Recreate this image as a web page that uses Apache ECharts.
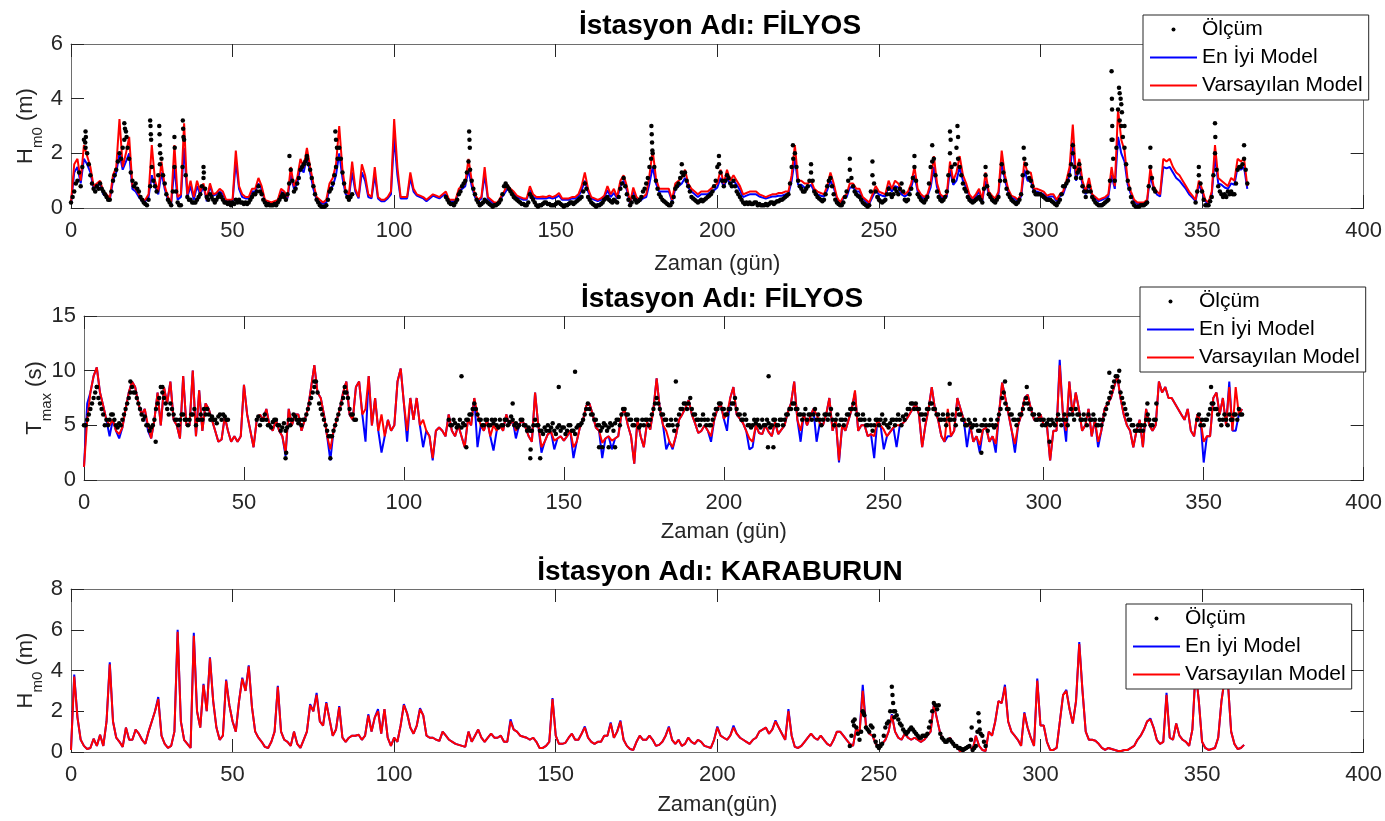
<!DOCTYPE html>
<html><head><meta charset="utf-8">
<script src="https://cdn.jsdelivr.net/npm/echarts@6/dist/echarts.min.js"></script>
<style>html,body{margin:0;padding:0;background:#fff}#c{width:1385px;height:821px}</style>
</head><body><div id="c"></div><script>
const xTicks = {min:0, max:400, interval:50};
const titles = ['İstasyon Adı: FİLYOS','İstasyon Adı: FİLYOS','İstasyon Adı: KARABURUN'];
const xNames = ['Zaman (gün)','Zaman (gün)','Zaman(gün)'];
const legendNames = ['Ölçüm','En İyi Model','Varsayılan Model'];
const yRanges = [[0,6,2],[0,15,5],[0,8,2]];

// Panel 1: FİLYOS Hm0 (daily values, day 0..364)
const R1 = [
0.2,1.6,1.8,1.0,2.3,1.9,1.5,0.8,0.9,1.0,
0.6,0.5,0.35,1.2,1.5,3.25,1.5,2.0,2.6,0.8,
0.7,0.5,0.3,0.3,0.5,2.3,1.0,0.6,1.7,0.8,
0.4,0.2,2.3,0.4,0.5,3.1,0.5,1.0,0.4,1.0,
0.6,0.9,0.3,0.9,0.5,0.55,0.7,0.6,0.3,0.3,
0.3,2.1,0.8,0.5,0.4,0.4,0.7,0.7,1.1,0.8,
0.3,0.25,0.2,0.25,0.3,0.7,0.6,0.4,1.5,0.8,
1.1,1.8,1.5,2.2,1.5,0.9,0.4,0.3,0.2,0.3,
0.9,1.1,1.6,3.0,1.4,0.6,0.5,1.7,0.7,0.4,
1.6,1.2,0.5,0.4,1.5,0.4,0.3,0.3,0.4,0.6,
3.25,1.5,0.4,0.4,0.4,1.3,0.7,0.5,0.45,0.4,
0.3,0.4,0.5,0.45,0.4,0.5,0.6,0.3,0.3,0.3,
0.7,0.8,0.9,1.8,1.0,0.5,0.3,0.4,1.5,0.4,
0.3,0.2,0.2,0.4,0.6,0.85,0.7,0.6,0.45,0.4,
0.35,0.35,0.8,0.5,0.4,0.4,0.42,0.4,0.45,0.4,
0.45,0.55,0.35,0.35,0.35,0.4,0.4,0.5,0.8,1.3,
0.7,0.4,0.35,0.3,0.35,0.45,0.8,0.5,0.7,0.4,
1.0,1.2,0.8,0.2,0.75,0.4,0.3,0.4,0.5,1.2,
2.1,1.1,0.7,0.7,0.7,0.7,0.3,0.9,1.0,1.1,
1.4,0.9,0.7,0.6,0.5,0.6,0.6,0.6,0.7,0.8,
0.9,1.4,0.9,1.4,1.0,1.2,1.0,0.8,0.5,0.55,
0.6,0.6,0.6,0.5,0.45,0.4,0.45,0.5,0.5,0.55,
0.55,0.6,0.6,1.2,2.3,1.0,1.0,0.9,0.9,1.0,
0.7,0.6,0.55,0.5,0.8,1.3,0.9,0.4,0.2,0.4,
0.5,0.9,0.9,0.7,0.7,0.4,0.3,0.2,0.5,0.8,
0.6,0.55,0.5,1.0,0.7,1.0,0.9,0.6,0.5,0.6,
0.9,1.5,0.7,0.5,0.4,0.5,0.9,1.9,0.9,0.5,
0.4,0.5,1.7,1.0,1.3,1.9,1.2,0.9,0.5,0.35,
0.5,0.7,0.3,1.3,0.6,0.45,0.35,0.6,2.1,1.2,
0.7,0.45,0.4,0.3,0.5,1.7,1.3,1.3,0.7,0.7,
0.65,0.6,0.45,0.5,0.5,0.3,0.5,0.6,1.0,1.5,
3.05,1.2,1.8,1.0,0.6,1.1,0.5,0.4,0.3,0.35,
0.4,0.5,1.5,0.8,3.6,2.5,2.1,1.0,0.6,0.3,
0.2,0.2,0.2,0.3,1.45,0.8,0.6,0.5,1.8,1.7,
1.8,1.5,1.3,1.2,1.0,0.8,0.6,0.45,0.3,1.0,
0.7,0.3,0.2,0.6,2.3,1.1,1.0,0.9,0.8,1.1,
1.0,1.8,1.7,1.8,0.8];
const B1 = [
0.15,1.3,1.5,0.9,1.8,1.6,1.3,0.7,0.8,0.9,
0.5,0.4,0.3,1.0,1.3,2.0,1.4,1.7,2.0,0.7,
0.6,0.4,0.25,0.25,0.4,1.2,0.8,0.5,1.3,0.7,
0.3,0.15,1.5,0.3,0.4,2.2,0.4,0.8,0.3,0.8,
0.5,0.8,0.25,0.8,0.45,0.5,0.6,0.5,0.25,0.25,
0.25,1.7,0.7,0.4,0.35,0.35,0.6,0.6,0.9,0.7,
0.25,0.2,0.15,0.2,0.25,0.6,0.5,0.35,1.2,0.7,
0.9,1.5,1.3,1.9,1.3,0.7,0.3,0.2,0.15,0.2,
0.7,0.8,1.2,2.0,1.1,0.5,0.4,1.3,0.6,0.35,
1.3,1.0,0.4,0.35,1.2,0.35,0.25,0.25,0.35,0.5,
2.6,1.2,0.35,0.35,0.35,1.1,0.6,0.45,0.4,0.35,
0.25,0.35,0.45,0.4,0.35,0.45,0.5,0.25,0.25,0.25,
0.6,0.7,0.8,1.4,0.8,0.4,0.25,0.35,1.2,0.35,
0.25,0.15,0.15,0.35,0.5,0.7,0.6,0.5,0.4,0.35,
0.3,0.3,0.65,0.4,0.35,0.35,0.36,0.35,0.38,0.35,
0.38,0.45,0.3,0.3,0.3,0.35,0.35,0.42,0.65,1.0,
0.6,0.35,0.3,0.25,0.3,0.38,0.65,0.4,0.55,0.35,
0.8,1.0,0.65,0.15,0.6,0.35,0.25,0.35,0.4,0.9,
1.5,0.9,0.6,0.6,0.6,0.6,0.25,0.7,0.8,0.9,
1.1,0.75,0.6,0.5,0.4,0.5,0.5,0.5,0.6,0.65,
0.75,1.1,0.75,1.1,0.85,1.0,0.85,0.65,0.4,0.45,
0.5,0.5,0.5,0.42,0.38,0.35,0.38,0.42,0.42,0.45,
0.45,0.5,0.5,1.0,1.8,0.85,0.85,0.75,0.75,0.85,
0.6,0.5,0.45,0.42,0.65,1.0,0.75,0.35,0.15,0.35,
0.4,0.75,0.75,0.6,0.6,0.35,0.25,0.15,0.4,0.65,
0.5,0.45,0.42,0.8,0.6,0.8,0.75,0.5,0.42,0.5,
0.75,1.2,0.6,0.42,0.35,0.42,0.75,1.5,0.75,0.42,
0.35,0.42,1.4,0.85,1.0,1.5,1.0,0.75,0.42,0.3,
0.42,0.6,0.25,1.0,0.5,0.38,0.3,0.5,1.7,1.0,
0.6,0.38,0.35,0.25,0.42,1.4,1.0,1.0,0.6,0.6,
0.55,0.5,0.38,0.42,0.42,0.25,0.42,0.5,0.85,1.2,
2.4,1.0,1.5,0.85,0.5,0.9,0.42,0.35,0.25,0.3,
0.35,0.42,1.2,0.7,2.6,2.0,1.7,0.85,0.5,0.25,
0.15,0.15,0.15,0.25,1.2,0.7,0.5,0.42,1.5,1.45,
1.5,1.3,1.1,1.0,0.85,0.7,0.5,0.38,0.25,0.85,
0.6,0.25,0.15,0.5,1.9,0.9,0.85,0.75,0.7,0.9,
0.85,1.5,1.4,1.5,0.7];
// measurements at whole days
const M1 = [
0.2,0.6,1.0,0.8,2.5,2.0,1.2,0.7,0.8,0.9,
0.6,0.4,0.3,1.0,1.4,2.0,2.2,2.8,1.8,1.0,
0.9,0.6,0.3,0.15,0.3,1.5,0.8,1.2,1.8,0.9,
0.3,0.1,1.5,0.2,0.1,2.5,0.4,0.3,0.2,0.3,
0.5,1.1,0.4,0.5,0.3,0.3,0.5,0.3,0.2,0.2,
0.2,0.3,0.3,0.2,0.2,0.2,0.4,0.5,0.8,0.5,
0.2,0.15,0.1,0.15,0.2,0.4,0.4,0.5,1.4,0.6,
0.9,1.4,1.6,1.8,1.4,0.8,0.3,0.1,0.05,0.1,
0.6,0.9,1.5,2.2,1.3,0.6,0.3,0.5,null,null,
null,null,null,null,null,null,null,null,null,null,
null,null,null,null,null,null,null,null,null,null,
null,null,null,null,null,null,0.4,0.2,0.15,0.2,
0.5,0.8,1.0,1.7,1.0,0.5,0.2,0.15,0.3,0.2,
0.1,0.1,0.15,0.3,0.8,0.8,0.6,0.4,0.3,0.2,
0.15,0.1,0.5,0.3,0.1,0.1,0.15,0.2,0.15,0.1,
0.15,0.2,0.1,0.1,0.15,0.2,0.2,0.3,0.4,0.9,
0.4,0.2,0.1,0.1,0.15,0.3,0.4,0.25,0.3,0.2,
0.7,1.1,0.5,0.1,0.4,0.2,0.3,0.6,0.9,1.5,
2.0,1.0,0.5,0.3,0.2,0.1,0.2,0.7,0.9,1.3,
1.3,0.8,0.4,0.3,0.2,0.3,0.3,0.4,0.5,0.8,
1.5,1.3,0.8,1.2,0.9,1.0,0.6,0.4,0.2,0.2,
0.2,0.15,0.2,0.15,0.1,0.15,0.15,0.2,0.2,0.25,
0.3,0.4,0.5,1.5,2.0,1.0,0.7,0.6,0.8,1.3,
0.6,0.4,0.3,0.3,0.8,1.1,0.5,0.2,0.1,0.2,
0.6,1.4,0.8,0.5,0.4,0.2,0.1,0.1,1.2,0.6,
0.3,0.2,0.3,0.7,0.4,0.7,0.5,0.9,0.3,0.3,
0.7,1.5,0.5,0.3,0.2,0.4,1.5,1.8,0.6,0.3,
0.3,0.6,2.0,1.0,2.2,1.5,0.9,0.6,0.3,0.2,
0.3,0.4,0.2,1.2,0.5,0.3,0.2,0.4,1.6,1.0,
0.5,0.3,0.2,0.2,0.5,1.8,1.3,1.0,0.6,0.5,
0.5,0.4,0.3,0.3,0.2,0.1,0.3,0.8,0.9,1.2,
2.0,1.1,1.4,0.8,0.4,0.8,0.4,0.2,0.1,0.1,
0.2,0.3,2.5,1.0,3.6,3.0,2.2,1.0,0.4,0.1,
0.05,0.1,0.1,0.2,1.5,0.7,null,null,null,null,
null,null,null,null,null,null,null,null,0.2,1.2,
0.6,0.1,0.1,0.4,2.0,0.8,0.5,0.5,0.6,0.6,
0.5,1.4,1.5,1.8,0.9];
// measurements at half days (day + 0.5)
const M1half = [
0.4,0.9,1.3,1.5,2.2,1.6,0.9,0.6,0.7,0.7,
0.5,0.3,0.6,1.2,1.7,1.8,2.5,2.2,1.3,0.8,
0.7,0.4,0.2,0.1,0.8,1.0,0.6,1.6,1.2,0.5,
0.2,0.6,0.6,0.1,1.5,1.2,0.3,0.2,0.2,0.4,
0.8,0.7,0.3,0.4,0.2,0.4,0.4,0.2,0.15,0.1,
0.15,0.2,0.2,0.15,0.15,0.3,0.5,0.6,0.6,0.3,
0.1,0.1,0.1,0.1,0.3,0.5,0.3,0.9,1.0,0.7,
1.1,1.5,1.7,1.6,1.1,0.5,0.2,0.05,0.05,0.3,
0.7,1.2,1.8,1.8,0.9,0.4,0.4,null,null,null,
null,null,null,null,null,null,null,null,null,null,
null,null,null,null,null,null,null,null,null,null,
null,null,null,null,null,null,0.3,0.15,0.1,0.3,
0.6,0.9,1.3,1.4,0.7,0.3,0.1,0.2,0.25,0.15,
0.05,0.1,0.2,0.5,0.9,0.7,0.5,0.35,0.25,0.15,
0.1,0.2,0.4,0.2,0.05,0.1,0.2,0.15,0.1,0.1,
0.2,0.15,0.05,0.1,0.2,0.15,0.25,0.35,0.6,0.7,
0.3,0.15,0.05,0.1,0.2,0.35,0.3,0.2,0.25,0.4,
0.9,0.8,0.3,0.2,0.3,0.25,0.4,0.7,1.1,1.8,
1.5,0.7,0.4,0.25,0.15,0.1,0.4,0.8,1.1,1.2,
1.0,0.6,0.35,0.25,0.25,0.25,0.35,0.45,0.6,1.0,
1.6,1.0,1.0,1.1,0.8,0.8,0.5,0.3,0.15,0.15,
0.15,0.2,0.1,0.1,0.1,0.1,0.2,0.15,0.25,0.3,
0.35,0.45,0.9,1.8,1.5,0.8,0.6,0.7,1.0,1.0,
0.5,0.35,0.25,0.5,1.0,0.8,0.3,0.15,0.1,0.4,
1.0,1.1,0.6,0.45,0.3,0.15,0.05,0.6,0.9,0.4,
0.25,0.25,0.5,0.5,0.5,0.6,0.7,0.6,0.25,0.5,
1.1,1.0,0.4,0.25,0.3,0.9,1.7,1.2,0.4,0.25,
0.4,1.2,1.5,1.6,1.8,1.2,0.7,0.4,0.25,0.25,
0.35,0.3,0.7,0.8,0.4,0.25,0.3,1.0,1.3,0.7,
0.4,0.25,0.15,0.3,1.2,1.6,1.1,0.8,0.5,0.5,
0.45,0.35,0.3,0.25,0.15,0.2,0.5,0.8,1.0,1.6,
1.5,1.3,1.1,0.6,0.6,0.6,0.3,0.15,0.1,0.15,
0.25,1.0,1.8,2.2,3.2,2.6,1.6,0.7,0.2,0.05,
0.05,0.1,0.15,0.8,1.1,0.6,null,null,null,null,
null,null,null,null,null,null,null,null,0.6,0.9,
0.3,0.1,0.25,1.2,1.4,0.6,0.4,0.4,0.5,0.5,
0.9,1.5,1.6,1.4,null];
const M1extra = [[4.5,2.8],[4.6,2.6],[4.4,2.4],[16.5,3.1],[16.7,2.9],[17.2,2.6],[24.5,3.2],[24.6,3.0],[24.7,2.7],[24.8,2.5],[27.3,3.0],[27.4,2.7],[27.5,2.3],[27.6,2.0],[32,2.6],[32.1,2.2],[34.6,3.2],[34.7,2.9],[34.8,2.6],[41,1.5],[41.1,1.3],[67.6,1.9],[73,1.9],[81.8,2.8],[82,2.5],[82.3,2.2],[123.2,2.8],[123.3,2.5],[123.4,2.2],[179.6,3.0],[179.7,2.7],[179.8,2.4],[179.9,2.1],[200.5,1.9],[189,1.6],[223.4,2.3],[229,1.6],[241,1.8],[248,1.7],[261,1.9],[266.5,2.3],[272,2.8],[272.2,2.5],[274.3,3.0],[274.5,2.6],[283,1.5],[294.8,2.2],[310,2.3],[312,1.6],[322,5.0],[322.1,4.0],[322.15,3.6],[322.2,3.0],[322.3,2.5],[324.3,4.4],[324.5,4.2],[324.8,4.0],[325,3.8],[325.2,3.5],[326,3.0],[334,2.2],[349,1.5],[354,3.1],[354.1,2.6],[363,2.3]];

// Panel 2: FİLYOS Tmax (day 0..362)
const R2 = [
1.2,5.5,8.0,9.5,10.3,8.0,6.8,5.5,5.0,5.5,
4.5,4.2,4.8,6.5,8.0,9.0,8.5,7.0,6.0,6.5,
5.0,3.8,5.5,8.0,5.0,8.5,7.0,9.0,5.5,5.0,
3.8,9.5,5.0,5.0,10.0,4.0,8.2,4.5,7.0,6.5,
5.5,4.5,3.5,3.7,5.8,4.5,3.5,4.0,3.5,4.0,
8.7,6.0,4.5,3.0,5.5,6.0,5.5,6.5,5.0,4.5,
5.5,4.5,4.0,2.5,6.5,5.0,6.0,6.0,4.5,5.5,
6.5,8.5,10.5,8.0,7.5,6.0,4.0,2.8,4.5,5.5,
6.5,8.0,9.0,6.0,5.5,8.5,9.0,6.0,6.5,9.5,
5.0,7.5,4.5,6.0,4.0,5.5,4.5,5.0,9.0,10.2,
7.0,4.5,7.5,5.5,7.5,5.0,5.5,4.5,4.0,2.0,
4.5,4.8,4.5,4.0,6.0,4.5,4.0,5.0,4.0,3.0,
5.5,5.0,7.5,6.0,5.0,4.5,5.5,4.0,5.0,4.5,
5.0,4.5,6.0,5.0,5.5,4.5,5.0,5.5,4.8,4.0,
3.5,8.0,5.0,3.0,3.5,4.2,4.4,3.6,3.8,4.0,
3.6,4.0,4.5,3.0,3.5,4.8,5.5,6.8,7.0,6.0,
4.8,4.5,3.4,3.8,4.0,3.6,3.8,4.0,6.0,6.4,
5.0,4.0,1.5,5.5,4.0,3.0,5.3,4.6,6.5,9.3,
6.5,5.0,4.5,3.5,3.0,4.0,5.5,6.0,6.6,7.3,
6.0,5.2,4.3,4.5,5.0,4.5,4.0,5.5,6.5,7.0,
5.6,6.0,7.5,8.5,6.0,5.6,5.2,4.5,3.8,3.5,
5.0,4.3,4.2,5.0,4.4,4.0,5.3,4.2,4.6,5.0,
6.2,7.0,9.0,5.5,4.5,6.0,5.0,5.8,6.5,6.0,
5.2,5.0,6.0,7.5,4.5,5.5,1.8,5.0,4.5,5.5,
6.5,8.2,4.5,5.0,5.0,4.0,4.2,4.0,5.5,5.0,
4.6,4.0,4.4,4.8,5.0,5.0,5.2,5.5,6.0,6.5,
7.0,6.0,3.0,5.0,6.5,8.5,6.5,5.5,4.0,3.5,
6.5,4.0,4.5,7.5,6.5,5.5,5.0,5.0,3.5,4.0,
3.2,4.6,4.8,3.5,4.0,3.3,6.0,8.9,7.5,6.0,
4.5,3.3,5.0,6.0,7.5,7.8,6.5,5.5,5.5,6.0,
5.0,5.0,1.8,4.5,4.5,10.5,6.0,4.5,9.0,6.0,
8.0,6.5,4.5,5.0,6.5,4.0,5.5,3.5,4.5,6.5,
7.0,7.5,8.5,9.5,7.5,6.0,5.0,4.5,3.0,4.5,
5.5,3.0,6.5,5.0,4.5,5.0,9.0,8.0,8.5,7.5,
7.5,7.0,6.5,6.0,5.5,6.5,4.5,4.0,6.0,5.5,
3.5,4.0,4.0,7.5,8.0,6.0,7.5,5.0,8.5,4.5,
8.5,6.0,6.5];
const B2 = [
1.2,7.0,8.0,9.5,10.3,8.0,6.8,5.5,4.0,5.5,
4.5,3.8,4.8,6.5,8.0,9.0,8.5,7.0,6.0,6.5,
4.5,3.8,5.5,8.0,5.0,8.5,7.0,9.0,5.5,5.0,
3.8,9.5,5.0,5.0,10.0,4.0,8.2,4.5,7.0,6.5,
5.5,4.5,3.5,3.7,5.8,4.5,3.5,4.0,3.5,4.0,
8.7,6.0,4.5,3.0,5.5,6.0,5.5,6.5,5.0,4.5,
5.5,4.5,4.0,2.2,6.5,5.0,6.0,6.0,4.5,5.5,
6.5,8.5,10.5,8.0,7.5,6.0,4.0,1.8,4.5,5.5,
6.5,8.0,9.0,6.0,5.5,8.5,9.0,6.0,3.5,9.5,
5.0,7.5,4.5,2.5,4.0,5.5,4.5,5.0,9.0,10.2,
7.0,3.5,7.5,5.5,7.5,5.0,3.0,4.5,4.0,1.8,
4.5,4.8,4.5,4.0,6.0,4.5,4.0,5.0,4.0,3.0,
5.5,5.0,7.5,3.0,5.0,4.5,5.5,4.0,2.7,4.5,
5.0,4.5,6.0,5.0,5.5,3.8,5.0,5.5,4.8,4.0,
3.5,8.0,5.0,2.5,3.5,4.2,4.4,2.8,3.8,4.0,
3.6,4.0,4.5,2.0,3.5,4.8,5.5,6.8,7.0,6.0,
4.8,4.5,2.0,3.8,4.0,2.8,3.8,4.0,6.0,6.4,
5.0,4.0,1.5,5.5,4.0,3.0,5.3,4.6,6.5,9.3,
6.5,5.0,2.8,3.5,2.8,4.0,5.5,6.0,6.6,7.3,
6.0,5.2,4.3,4.5,5.0,4.5,3.5,5.5,6.5,7.0,
5.6,4.5,7.5,8.5,6.0,5.6,5.2,4.5,2.8,3.0,
5.0,4.3,4.2,5.0,4.4,4.0,5.3,4.2,4.6,5.0,
6.2,7.0,9.0,5.5,3.5,6.0,5.0,5.8,6.5,3.5,
5.2,5.0,6.0,7.5,4.5,5.5,1.6,5.0,4.5,5.5,
6.5,8.0,4.5,5.0,5.0,4.0,4.2,2.0,5.5,5.0,
2.8,4.0,4.4,4.8,3.0,5.0,5.2,5.5,6.0,6.5,
7.0,6.0,3.0,5.0,6.5,8.5,6.5,5.5,4.0,3.5,
4.0,4.0,4.5,7.5,6.5,5.5,3.0,5.0,3.5,4.0,
2.5,4.6,4.8,3.5,4.0,2.5,6.0,8.9,7.5,6.0,
4.5,2.5,5.0,6.0,7.5,7.8,6.5,5.5,5.5,6.0,
5.0,5.0,1.8,4.5,4.5,11.0,6.0,3.5,9.0,6.0,
8.0,6.5,4.5,5.0,6.5,4.0,5.5,3.0,4.5,6.5,
7.0,7.5,8.5,9.5,7.5,6.0,5.0,4.5,3.0,4.5,
5.5,3.0,6.5,5.0,4.5,5.0,9.0,8.0,8.5,7.5,
7.5,7.0,6.5,6.0,5.5,6.5,4.5,4.0,6.0,5.5,
1.6,4.0,4.0,7.5,8.0,6.0,7.5,5.0,9.0,4.5,
4.5,6.0,6.5];
const M2 = [
5.0,5.5,6.5,7.5,8.5,7.0,6.0,5.5,5.5,6.0,
5.0,5.2,5.5,6.5,7.5,8.5,8.0,7.0,6.0,5.8,
5.0,4.8,5.5,7.0,8.5,7.5,6.5,7.0,6.0,5.5,
5.5,6.0,5.5,5.5,6.0,5.0,5.5,5.5,6.0,6.0,
5.8,5.5,5.8,5.5,5.8,5.5,null,null,null,null,
null,null,null,null,5.5,5.0,5.5,5.5,5.0,5.3,
5.5,5.0,4.8,4.5,5.5,5.5,5.8,5.2,5.0,5.5,
6.5,7.5,8.5,8.0,6.5,5.5,4.5,4.0,4.5,5.5,
6.5,7.5,8.0,6.5,6.0,5.5,null,null,null,null,
null,null,null,null,null,null,null,null,null,null,
null,null,null,null,null,null,null,null,null,null,
null,null,null,null,5.5,5.0,5.2,5.0,4.8,5.0,
5.5,6.0,7.0,6.0,5.5,5.0,5.5,5.0,5.2,5.0,
5.5,5.0,5.5,5.3,5.5,5.2,5.0,5.5,5.0,4.8,
4.5,5.5,5.0,4.5,4.8,5.0,4.8,4.5,4.8,4.5,
4.8,4.5,5.0,4.5,4.8,5.0,5.5,6.5,6.5,6.0,
5.5,5.0,4.8,5.0,4.8,5.0,5.2,5.5,6.0,6.5,
6.0,5.5,5.0,5.5,5.0,5.0,5.5,5.5,6.5,7.5,
6.5,6.0,5.5,5.0,5.0,5.5,6.0,6.5,7.0,7.0,
6.5,6.0,5.5,5.5,5.5,5.5,5.0,6.0,6.5,7.0,
6.5,6.0,6.5,7.0,6.5,6.0,5.5,5.5,5.0,5.0,
5.2,5.0,5.5,5.0,5.2,5.0,5.5,5.0,5.5,5.5,
6.0,6.5,7.0,6.5,6.0,6.0,5.5,6.0,6.0,5.5,
5.5,5.5,6.0,6.0,5.5,5.5,5.0,5.5,5.5,6.0,
6.5,6.5,6.0,5.5,5.5,5.0,5.0,5.0,5.5,5.5,
5.2,5.0,5.2,5.5,5.5,5.5,5.8,6.0,6.5,7.0,
7.0,6.5,6.0,6.0,6.5,7.0,6.5,6.0,5.5,5.5,
6.0,5.5,5.5,6.5,6.0,5.5,5.0,5.2,5.0,5.0,
4.5,5.0,5.0,5.0,5.0,5.0,6.0,7.5,7.0,6.5,
6.0,5.5,5.5,6.0,7.0,7.0,6.5,6.0,5.5,5.5,
5.5,5.2,5.0,5.2,5.5,5.5,5.5,5.5,6.0,6.0,
6.5,6.0,5.5,5.5,6.0,5.5,5.5,5.0,5.0,6.0,
7.0,8.0,9.0,9.5,8.0,7.0,6.0,5.5,5.0,4.5,
4.5,4.5,5.5,5.5,5.0,5.5,null,null,null,null,
null,null,null,null,null,null,null,null,5.5,5.0,
5.0,5.5,6.5,7.0,6.5,5.5,5.5,5.5,6.0,5.5,
6.0,6.5,6.0];
const M2half = [
5.0,6.0,7.0,8.0,7.5,6.5,5.0,5.0,6.0,5.5,
4.8,5.0,6.0,7.0,8.0,8.0,7.5,6.5,5.5,5.0,
4.5,5.0,6.5,7.5,8.0,7.0,6.0,6.5,5.5,5.0,
6.0,5.5,5.0,6.0,6.5,5.5,6.0,6.5,6.5,5.5,
5.5,5.2,6.0,6.0,5.5,null,null,null,null,null,
null,null,null,null,5.8,5.5,6.0,5.0,4.8,5.5,
5.0,4.5,5.2,4.8,5.0,6.0,5.5,5.5,5.5,6.0,
7.0,8.0,9.0,7.0,6.0,5.0,4.0,4.0,5.0,6.0,
7.0,8.0,7.5,6.0,5.5,null,null,null,null,null,
null,null,null,null,null,null,null,null,null,null,
null,null,null,null,null,null,null,null,null,null,
null,null,null,null,5.0,5.5,4.8,5.5,5.2,5.5,
6.0,6.5,6.5,5.5,5.0,5.5,5.0,5.5,5.5,4.8,
5.0,5.5,5.0,5.8,5.0,4.8,5.5,5.0,4.5,4.5,
5.0,5.0,4.5,4.2,4.5,4.5,5.2,4.2,5.0,4.8,
4.2,5.0,4.5,4.2,5.0,5.2,6.0,7.0,6.0,5.5,
5.0,4.5,5.2,4.5,5.2,4.5,5.5,5.0,6.5,6.0,
5.5,5.0,5.5,4.8,5.5,5.5,5.0,6.0,7.0,7.0,
6.0,5.5,5.0,5.5,4.5,5.0,6.5,7.0,6.5,7.5,
6.0,5.5,5.0,6.0,5.0,5.0,5.5,6.5,7.0,6.5,
6.0,6.5,7.0,7.5,6.0,5.5,6.0,5.0,4.8,5.5,
5.5,4.8,5.0,5.5,4.8,5.5,5.0,5.5,5.0,6.0,
6.5,7.0,6.5,6.0,5.5,6.5,6.0,5.5,6.5,6.0,
5.0,6.0,5.5,6.5,5.0,6.0,5.5,5.0,6.0,6.5,
7.0,6.0,5.5,6.0,5.0,5.5,4.5,5.5,5.0,6.0,
5.5,4.8,5.5,5.0,6.0,5.0,5.5,6.5,7.0,6.5,
6.5,6.0,5.5,6.5,7.0,6.5,6.0,5.5,6.0,5.0,
5.5,6.0,5.0,6.0,5.5,5.0,5.5,4.8,5.5,4.5,
5.0,5.5,4.5,5.5,4.8,5.5,6.5,8.0,6.5,6.0,
5.5,5.0,6.0,6.5,7.5,6.5,6.0,5.5,6.0,5.0,
5.0,5.5,5.5,5.0,6.0,5.0,6.0,5.0,6.5,5.5,
6.0,5.5,6.0,5.0,5.5,6.0,5.0,5.5,5.5,6.5,
7.5,8.5,9.5,9.0,7.5,6.5,5.5,5.0,4.5,5.0,
5.0,5.0,6.0,5.0,5.5,null,null,null,null,null,
null,null,null,null,null,null,null,null,6.0,5.5,
5.5,6.0,7.0,6.5,6.0,5.0,6.0,5.0,5.5,6.0,
5.5,6.0,null];
const M2extra = [[4,8.5],[14.5,9.0],[22.4,3.5],[24.5,8.5],[63,2.0],[63.2,2.5],[72,9.0],[77,2.0],[81.5,8.5],[118,9.5],[119.5,3.0],[134,7.0],[139.5,2.0],[139.6,2.8],[142.6,2.0],[148.4,8.5],[153.5,9.9],[161,3.0],[162,3.0],[164,3.0],[166,3.0],[185,9.0],[214,9.5],[213.8,3.0],[215.5,3.0],[270.6,8.8],[280.5,2.5],[287.9,9.0],[294.7,8.5],[301.8,3.5],[320.5,9.8],[323.6,10.0],[332.4,7.0],[335.2,7.0],[352.3,8.5]];

// Panel 3: KARABURUN Hm0 (day 0..363)
const R3 = [
0.1,3.7,1.7,0.6,0.3,0.15,0.2,0.65,0.3,0.85,
0.3,1.5,4.3,1.5,0.7,0.5,0.25,1.2,0.6,0.6,
1.1,0.9,0.6,0.4,1.0,1.5,2.0,2.6,0.8,0.4,
0.2,0.3,1.0,5.9,1.5,0.6,0.4,0.2,5.7,2.0,
1.2,3.3,2.0,4.6,2.5,1.2,0.6,0.8,3.5,2.3,
1.5,1.0,2.5,3.6,3.0,4.2,2.2,1.0,0.7,0.5,
0.25,0.2,0.5,1.0,3.2,1.0,0.6,0.5,0.3,1.0,
0.4,0.2,0.6,1.0,2.3,2.0,2.8,1.5,1.3,2.4,
1.6,0.8,1.1,2.2,0.7,0.5,0.7,0.8,0.8,0.85,
0.6,0.8,1.8,1.0,1.7,2.0,0.9,2.1,0.7,0.3,
0.7,0.5,1.3,2.3,1.9,1.2,0.9,1.3,2.1,1.8,
0.8,0.7,0.7,0.6,0.55,1.0,0.8,0.6,0.5,0.4,
0.35,0.3,0.25,1.0,0.5,0.8,1.1,0.7,0.5,0.7,
0.9,0.7,0.7,0.8,0.5,0.5,1.5,1.1,1.0,0.8,
0.75,0.7,0.6,0.7,0.5,0.2,0.2,0.3,0.5,2.6,
0.8,0.4,0.4,0.45,0.7,0.9,0.6,0.6,0.9,1.2,
0.7,0.5,0.4,0.5,0.5,0.8,0.8,1.4,0.7,1.0,
1.5,0.6,0.3,0.15,0.1,0.5,0.8,0.6,0.6,0.8,
0.6,0.3,0.35,0.5,0.8,1.2,0.6,0.4,0.6,0.3,
0.4,0.7,0.5,0.4,0.6,0.5,0.3,0.25,0.2,0.6,
1.2,0.8,0.7,0.6,0.8,1.2,0.9,0.7,0.6,0.5,
0.4,0.6,0.7,1.0,1.1,1.2,0.9,1.1,1.5,1.2,
0.9,0.6,2.0,0.8,0.25,0.2,0.3,0.5,0.7,0.9,
0.7,0.6,0.8,0.6,0.4,0.3,0.6,1.0,1.0,0.8,
0.6,0.4,0.3,1.2,0.9,3.0,1.3,0.9,0.8,0.4,
0.3,0.4,0.6,1.0,1.8,1.0,0.7,0.6,0.9,0.7,
0.6,0.7,0.6,0.5,0.6,0.8,1.0,2.3,1.6,0.9,
0.6,0.5,0.7,0.4,0.3,0.05,0.05,0.2,0.3,0.1,
0.8,0.3,0.1,0.05,1.0,0.8,1.5,2.5,2.4,3.2,
1.5,1.0,0.8,0.6,0.3,1.9,1.2,0.7,0.3,3.5,
1.3,1.3,0.5,0.1,0.1,0.2,1.5,2.8,3.0,2.1,
1.4,2.5,5.3,3.0,1.0,0.6,0.6,0.55,0.4,0.2,
0.1,0.2,0.15,0.1,0.05,0.05,0.1,0.1,0.2,0.3,
0.6,0.8,1.1,1.5,1.6,1.2,0.6,0.4,0.5,2.8,
0.7,0.6,1.4,0.8,0.6,0.5,0.3,1.1,4.0,2.5,
0.5,0.2,0.1,0.15,0.2,0.7,2.5,3.6,3.4,1.0,
0.4,0.15,0.2,0.35];
const B3 = [
0.1,3.8,1.7,0.6,0.3,0.15,0.2,0.65,0.3,0.85,
0.3,1.5,4.4,1.5,0.7,0.5,0.25,1.2,0.6,0.6,
1.1,0.9,0.6,0.4,1.0,1.5,2.0,2.7,0.8,0.4,
0.2,0.3,1.0,6.0,1.5,0.6,0.4,0.2,5.85,2.0,
1.2,3.35,2.0,4.65,2.5,1.2,0.6,0.8,3.55,2.3,
1.5,1.0,2.5,3.65,3.0,4.25,2.2,1.0,0.7,0.5,
0.25,0.2,0.5,1.0,3.25,1.0,0.6,0.5,0.3,1.0,
0.4,0.2,0.6,1.0,2.35,2.0,2.9,1.5,1.3,2.45,
1.6,0.8,1.1,2.25,0.7,0.5,0.7,0.8,0.8,0.85,
0.6,0.8,1.85,1.0,1.7,2.1,0.9,2.1,0.7,0.3,
0.7,0.5,1.3,2.35,1.9,1.2,0.9,1.3,2.15,1.8,
0.8,0.7,0.7,0.6,0.55,1.0,0.8,0.6,0.5,0.4,
0.35,0.3,0.25,1.0,0.5,0.8,1.1,0.7,0.5,0.7,
0.9,0.7,0.7,0.8,0.5,0.5,1.6,1.1,1.0,0.8,
0.75,0.7,0.6,0.7,0.5,0.2,0.2,0.3,0.5,2.65,
0.8,0.4,0.4,0.45,0.7,0.9,0.6,0.6,0.9,1.25,
0.7,0.5,0.4,0.5,0.5,0.8,0.8,1.45,0.7,1.0,
1.55,0.6,0.3,0.15,0.1,0.5,0.8,0.6,0.6,0.8,
0.6,0.3,0.35,0.5,0.8,1.25,0.6,0.4,0.6,0.3,
0.4,0.7,0.5,0.4,0.6,0.5,0.3,0.25,0.2,0.6,
1.25,0.8,0.7,0.6,0.8,1.3,0.9,0.7,0.6,0.5,
0.4,0.6,0.7,1.0,1.1,1.2,0.9,1.1,1.55,1.2,
0.9,0.6,2.1,0.8,0.25,0.2,0.3,0.5,0.7,0.9,
0.7,0.6,0.8,0.6,0.4,0.3,0.6,1.0,1.0,0.8,
0.6,0.4,0.3,1.2,0.9,3.3,1.3,0.9,0.8,0.4,
0.3,0.4,0.6,1.0,1.85,1.0,0.7,0.6,0.9,0.7,
0.6,0.7,0.6,0.5,0.6,0.8,1.0,2.35,1.6,0.9,
0.6,0.5,0.7,0.4,0.3,0.05,0.05,0.2,0.3,0.1,
0.8,0.3,0.1,0.05,1.0,0.8,1.5,2.5,2.4,3.3,
1.5,1.0,0.8,0.6,0.3,1.95,1.2,0.7,0.3,3.6,
1.3,1.3,0.5,0.1,0.1,0.2,1.5,2.8,3.05,2.1,
1.4,2.5,5.4,3.0,1.0,0.6,0.6,0.55,0.4,0.2,
0.1,0.2,0.15,0.1,0.05,0.05,0.1,0.1,0.2,0.3,
0.6,0.8,1.1,1.5,1.65,1.2,0.6,0.4,0.5,2.9,
0.7,0.6,1.4,0.8,0.6,0.5,0.3,1.1,4.0,2.5,
0.5,0.2,0.1,0.15,0.2,0.7,2.5,3.6,3.4,1.0,
0.4,0.15,0.2,0.35];
const M3 = [[241,0.3],[241.5,0.8],[242,1.5],[242.3,1.3],[242.5,1.6],[243,1.2],[243.5,0.9],[244,0.6],[244.5,1.0],[245,2.0],[245.3,1.9],[245.5,1.8],[246,1.2],[246.5,1.1],[247,1.0],[247.5,1.3],[248,1.2],[248.5,0.8],[249,0.5],[249.5,0.3],[250,0.2],[250.5,0.3],[251,0.4],[251.5,0.8],[252,1.2],[252.5,1.4],[253,1.5],[253.5,2.0],[254,3.2],[254.2,2.8],[254.4,2.4],[254.6,2.0],[254.8,1.7],[255,2.0],[255.5,1.8],[256,1.6],[256.5,1.4],[257,1.3],[257.5,1.1],[258,1.0],[258.5,0.9],[259,1.0],[259.5,1.1],[260,1.2],[260.5,1.1],[261,1.0],[261.5,0.9],[262,0.8],[262.5,0.7],[263,0.7],[263.5,0.8],[264,0.8],[264.5,0.8],[265,0.9],[265.5,1.2],[266,1.5],[266.5,2.0],[267,2.4],[267.5,2.3],[268,2.1],[268.5,2.3],[269,0.9],[269.5,0.7],[270,0.6],[270.5,0.5],[271,0.5],[271.5,0.6],[272,0.6],[272.5,0.5],[273,0.4],[273.5,0.3],[274,0.3],[274.5,0.2],[275,0.2],[275.5,0.15],[276,0.1],[276.5,0.15],[277,0.2],[277.5,0.25],[278,0.3],[278.5,0.6],[278.7,1.2],[279,0.1],[279.5,0.2],[280,0.3],[280.5,1.0],[280.8,1.9],[281,1.5],[281.2,1.1],[281.5,0.9],[282,0.8],[282.5,0.5],[283,0.3]];

const FONT = '"Liberation Sans", Arial, sans-serif';
const AX = '#262626';
const grids = [
  {left:71, top:44, width:1298, height:164},
  {left:84, top:316, width:1284, height:164},
  {left:71, top:589, width:1298, height:163}
];
const yNames = [
  '{a|H}{s|m0}{a| (m)}',
  '{a|T}{s|max}{a| (s)}',
  '{a|H}{s|m0}{a| (m)}'
];
const titleTops = [12, 285, 558];
const titleCenters = [720, 722, 720];
const xNameGaps = [45, 41, 42];
const yNameGaps = [26, 30, 26];
const legendPos = [{left:1143, top:15},{left:1140, top:287},{left:1126, top:604}];
const LINE_ICON = 'path://M0,0L47,0L47,2L0,2Z';

const xAxes = [], yAxes = [], series = [], titleArr = [], legends = [];
const tickStyle = {show:true, inside:true, length:13, lineStyle:{color:AX, width:1}};
const lineStyleAx = {show:true, onZero:false, lineStyle:{color:'#6e6e6e', width:1}};
for (let g = 0; g < 3; g++) {
  xAxes.push({gridIndex:g, type:'value', position:'bottom', min:xTicks.min, max:xTicks.max, interval:xTicks.interval,
    axisLine:lineStyleAx, axisTick:tickStyle, splitLine:{show:false},
    axisLabel:{margin:12, fontSize:22, color:AX, fontFamily:FONT},
    name:xNames[g], nameLocation:'middle', nameGap:xNameGaps[g],
    nameTextStyle:{fontSize:22, color:AX, fontFamily:FONT}});
  xAxes.push({gridIndex:g, type:'value', position:'top', min:xTicks.min, max:xTicks.max, interval:xTicks.interval,
    axisLine:lineStyleAx, axisTick:tickStyle, splitLine:{show:false}, axisLabel:{show:false}});
  const yr = yRanges[g];
  yAxes.push({gridIndex:g, type:'value', position:'left', min:yr[0], max:yr[1], interval:yr[2],
    axisLine:lineStyleAx, axisTick:tickStyle, splitLine:{show:false},
    axisLabel:{margin:8, fontSize:22, color:AX, fontFamily:FONT},
    name:yNames[g], nameLocation:'middle', nameRotate:90, nameGap:yNameGaps[g], nameMoveOverlap:false,
    nameTextStyle:{color:AX, fontFamily:FONT, rich:{
      a:{fontSize:22, lineHeight:30, verticalAlign:'top', color:AX, fontFamily:FONT},
      s:{fontSize:15, lineHeight:16, verticalAlign:'bottom', color:AX, fontFamily:FONT}}}});
  yAxes.push({gridIndex:g, type:'value', position:'right', min:yr[0], max:yr[1], interval:yr[2],
    axisLine:lineStyleAx, axisTick:tickStyle, splitLine:{show:false}, axisLabel:{show:false}});
  titleArr.push({text:titles[g], left:titleCenters[g], top:titleTops[g], textAlign:'center', padding:0,
    textStyle:{fontSize:28, fontWeight:'bold', color:'#000', fontFamily:FONT}});
  legends.push({orient:'vertical', left:legendPos[g].left, top:legendPos[g].top, zlevel:1, z:20,
    backgroundColor:'#fff', borderColor:AX, borderWidth:1, borderRadius:0, padding:[3,6,3,7],
    itemWidth:47, itemHeight:4, itemGap:5, selectedMode:false,
    textStyle:{fontSize:21, lineHeight:23, color:'#000', fontFamily:FONT},
    data:[
      {name:legendNames[0], icon:'circle'},
      {name:legendNames[1], icon:LINE_ICON, itemStyle:{color:'#0000ff'}},
      {name:legendNames[2], icon:LINE_ICON, itemStyle:{color:'#ff0000'}}
    ]});
}
const panels = [
  {R:R1, B:B1, M:M1, H:M1half, X:M1extra},
  {R:R2, B:B2, M:M2, H:M2half, X:M2extra},
  {R:R3, B:B3, M:null, H:null, X:M3}
];
panels.forEach((p, g) => {
  const xi = 2*g, yi = 2*g;
  const meas = [];
  if (p.M) p.M.forEach((v,i) => { if (v !== null) meas.push([i, v]); });
  if (p.H) p.H.forEach((v,i) => { if (v !== null) meas.push([i + 0.5, v]); });
  p.X.forEach(pt => meas.push(pt));
  series.push({name:'Ölçüm', type:'scatter', xAxisIndex:xi, yAxisIndex:yi, data:meas,
    symbol:'circle', symbolSize:4.5, itemStyle:{color:'#000', opacity:1}, silent:true, z:2});
  series.push({name:'En İyi Model', type:'line', xAxisIndex:xi, yAxisIndex:yi,
    data:p.B.map((v,i)=>[i,v]), symbol:'none', showSymbol:false,
    lineStyle:{color:'#0000ff', width:2}, itemStyle:{color:'#0000ff'}, z:2});
  series.push({name:'Varsayılan Model', type:'line', xAxisIndex:xi, yAxisIndex:yi,
    data:p.R.map((v,i)=>[i,v]), symbol:'none', showSymbol:false,
    lineStyle:{color:'#ff0000', width:2}, itemStyle:{color:'#ff0000'}, z:2});
});

const chart = echarts.init(document.getElementById('c'), null, {renderer:'canvas'});
chart.setOption({
  animation:false,
  backgroundColor:'#fff',
  title:titleArr,
  legend:legends,
  grid:grids,
  xAxis:xAxes,
  yAxis:yAxes,
  series:series
});
</script></body></html>
